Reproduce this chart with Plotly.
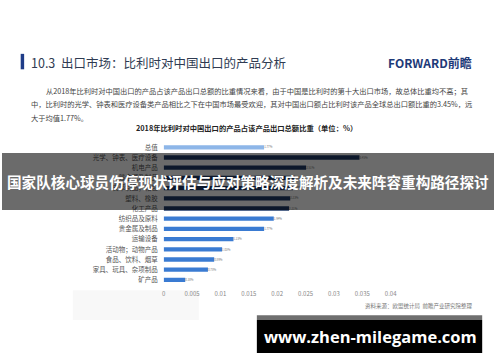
import plotly.graph_objects as go

W, H = 500, 362

categories = ["总值", "光学、钟表、医疗设备", "机电产品", "贱金属及制品", "皮革制品；箱包",
              "塑料、橡胶", "化工产品", "纺织品及原料", "贵金属及制品", "运输设备",
              "活动物；动物产品", "食品、饮料、烟草", "家具、玩具、杂项制品", "矿产品"]
values_pct = [1.77, 3.45, 2.51, 2.32, 2.28, 2.23, 2.21, 1.94, 1.77, 1.23, 1.03, 0.89, 0.78, 0.38]
groups = ["total", "top", "top", "top", "top", "top", "top",
          "other", "other", "other", "other", "other", "other", "other"]
group_colors = {"total": "#8db6e8", "top": "#1f3a68", "other": "#3a7bd2"}
x_tickvals = [0, 0.005, 0.01, 0.015, 0.02, 0.025, 0.03, 0.035, 0.04]
x_ticktext = ["0", "0.005", "0.01", "0.015", "0.02", "0.025", "0.03", "0.035", "0.04"]

CJK = "Noto Sans CJK SC"


def px(x):
    return x / W


def py(y):
    return 1 - y / H


fig = go.Figure()
fig.add_trace(go.Bar(
    y=categories,
    x=[v / 100 for v in values_pct],
    orientation="h",
    marker=dict(color=[group_colors[g] for g in groups], line=dict(width=0)),
    width=0.42,
    text=[f"{v:.2f}%" for v in values_pct],
    textposition="outside",
    textfont=dict(family=CJK, size=6, color="#777777"),
    cliponaxis=False,
    hoverinfo="skip",
))

fig.update_layout(
    width=W, height=H, autosize=False,
    margin=dict(l=0, r=0, t=0, b=0),
    paper_bgcolor="white", plot_bgcolor="rgba(0,0,0,0)",
    showlegend=False,
    xaxis=dict(domain=[px(164.3), px(395)], range=[0, 0.04], tickvals=x_tickvals,
               ticktext=x_ticktext, showgrid=False, zeroline=False, showline=False,
               ticks="", ticklabelstandoff=4,
               tickfont=dict(family=CJK, size=6, color="#888888")),
    yaxis=dict(domain=[py(284.8), py(141.6)], autorange=False, range=[13.5, -0.5],
               showgrid=False, zeroline=False, showline=False, ticks="",
               ticklabelstandoff=5,
               tickfont=dict(family=CJK, size=6.5, color="#555555")),
)

shapes = [
    # faint watermark-ish box
    dict(type="rect", xref="paper", yref="paper", x0=px(72), x1=px(200), y0=py(320), y1=py(290),
         fillcolor="#f8f8f8", line=dict(width=0), layer="below"),
    # header accent bar
    dict(type="rect", xref="paper", yref="paper", x0=px(19), x1=px(22.5), y0=py(68.5), y1=py(53),
         fillcolor="#1f3c88", line=dict(width=0), layer="above"),
    # grey overlay band
    dict(type="rect", xref="paper", yref="paper", x0=0, x1=1, y0=py(209.5), y1=py(152.5),
         fillcolor="rgba(0,0,0,0.58)", line=dict(width=0), layer="above"),
    # bottom banner strip
    dict(type="rect", xref="paper", yref="paper", x0=px(259), x1=px(488), y0=py(320), y1=py(315),
         fillcolor="#6f6f6f", line=dict(width=0), layer="above"),
    dict(type="rect", xref="paper", yref="paper", x0=px(259), x1=px(488), y0=py(353), y1=py(320),
         fillcolor="#000000", line=dict(width=0), layer="above"),
]
fig.update_layout(shapes=shapes)

ann = []


def add_text(text, x, y, size, color, xanchor="left", bold=False, family=CJK):
    if bold:
        text = f"<b>{text}</b>"
    ann.append(dict(text=text, x=px(x), y=py(y), xref="paper", yref="paper",
                    xanchor=xanchor, yanchor="middle", showarrow=False,
                    font=dict(family=family, size=size, color=color)))


add_text("10.3  出口市场：比利时对中国出口的产品分析", 27, 61.5, 12.5, "#2f3b52")
add_text("F<span style='color:#1e3a78'>O</span>RWARD前瞻", 480, 61.5, 12, "#1e3a78", xanchor="right", bold=True)
add_text("从2018年比利时对中国出口的产品占该产品出口总额的比重情况来看，由于中国是比利时的第十大出口市场，故总体比重均不高；其",
         43, 90, 7.25, "#444444")
add_text("中，比利时的光学、钟表和医疗设备类产品相比之下在中国市场最受欢迎，其对中国出口额占比利时该产品全球总出口额比重的3.45%，远",
         27, 103.5, 7.25, "#444444")
add_text("大于均值1.77%。", 27, 117, 7.25, "#444444")
add_text("2018年比利时对中国出口的产品占该产品出口总额比重（单位：%）", 248, 127, 7.3, "#222222",
         xanchor="center", bold=True)
add_text("资料来源：欧盟统计局  前瞻产业研究院整理", 480, 306, 5.5, "#777777", xanchor="right")
add_text("国家队核心球员伤停现状评估与应对策略深度解析及未来阵容重构路径探讨", 250, 181.5, 14.6, "#ffffff",
         xanchor="center", bold=True)
add_text("www.zhen-milegame.com", 374, 336, 16.5, "#ffffff", xanchor="center", bold=True,
         family="Open Sans")

fig.update_layout(annotations=ann)

fig.write_html("out.html")
